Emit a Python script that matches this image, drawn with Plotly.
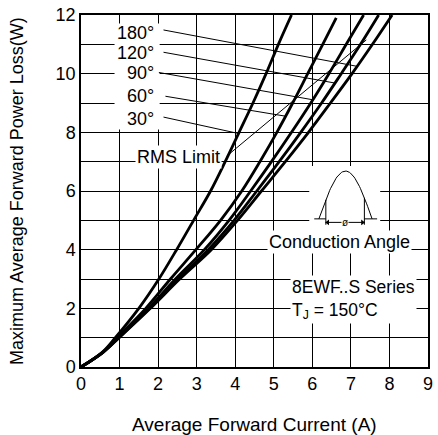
import numpy as np
import plotly.graph_objects as go

# ---------------- data ----------------
power_levels = [0, 0.5, 1, 2, 3, 4, 5, 6, 7, 8, 9, 10, 11, 12]
power_60 = [0, 0.5, 1, 2, 3, 4, 5, 6, 7, 8, 9, 10, 11, 11.9]
current_30 = [0, 0.55, 0.89, 1.50, 2.02, 2.48, 2.92, 3.36, 3.74, 4.10, 4.46, 4.80, 5.12, 5.46]
current_60 = [0, 0.56, 0.94, 1.68, 2.32, 2.98, 3.62, 4.17, 4.64, 5.08, 5.49, 5.88, 6.27, 6.62]
current_90 = [0, 0.57, 0.97, 1.75, 2.45, 3.20, 3.84, 4.40, 4.94, 5.46, 5.96, 6.43, 6.88, 7.33]
current_120 = [0, 0.57, 0.98, 1.78, 2.52, 3.30, 3.97, 4.56, 5.14, 5.70, 6.24, 6.75, 7.25, 7.72]
current_180 = [0, 0.57, 0.99, 1.80, 2.56, 3.38, 4.06, 4.68, 5.30, 5.90, 6.47, 7.03, 7.56, 8.07]

angle_labels = ["180°", "120°", "90°", "60°", "30°"]
# leader line end heights on each curve (W)
leader_end_power = [10.25, 9.68, 9.11, 8.55, 7.96]

# RMS limit line (A, W)
rms_current = [3.78, 7.40]
rms_power = [7.19, 11.15]

x_ticks = [0, 1, 2, 3, 4, 5, 6, 7, 8, 9]
y_ticks = [0, 2, 4, 6, 8, 10, 12]

# ---------------- layout / positions ----------------
FONT = "Arial, Liberation Sans, sans-serif"
label_x = 1.94
label_y = [11.38, 10.69, 10.01, 9.23, 8.47]
leader_start_x = [2.14, 2.14, 2.02, 2.19, 2.14]
leader_start_y = [11.49, 10.73, 10.04, 9.23, 8.52]

curves = [
    (current_180, power_levels),
    (current_120, power_levels),
    (current_90, power_levels),
    (current_60, power_60),
    (current_30, power_levels),
]

fig = go.Figure()

for cur, pw in curves:
    fig.add_trace(go.Scatter(x=cur, y=pw, mode="lines",
                             line=dict(color="black", width=2.8, shape="spline", smoothing=1.0),
                             hoverinfo="skip", showlegend=False))

# leader lines from labels to curves
for i, (cur, pw) in enumerate(curves):
    ex = float(np.interp(leader_end_power[i], pw, cur))
    fig.add_trace(go.Scatter(x=[leader_start_x[i], ex], y=[leader_start_y[i], leader_end_power[i]],
                             mode="lines", line=dict(color="black", width=1),
                             hoverinfo="skip", showlegend=False))

fig.add_trace(go.Scatter(x=rms_current, y=rms_power, mode="lines",
                         line=dict(color="black", width=1), hoverinfo="skip", showlegend=False))

# ---------------- conduction-angle icon ----------------
ic_x0, ic_x1, ic_base, ic_h = 6.17, 7.55, 5.05, 1.63
t = np.linspace(0, 1, 60)
fig.add_trace(go.Scatter(x=ic_x0 + (ic_x1 - ic_x0) * t, y=ic_base + ic_h * np.sin(np.pi * t),
                         mode="lines", line=dict(color="black", width=1),
                         hoverinfo="skip", showlegend=False))
v_left, v_right = 6.35, 7.35
shapes = []
# white masks (above grid, below data)
masks = [
    (0.87, 2.04, 8.10, 11.71),
    (5.92, 7.76, 4.55, 6.85),
]
for x0, x1, y0, y1 in masks:
    shapes.append(dict(type="rect", xref="x", yref="y", x0=x0, x1=x1, y0=y0, y1=y1,
                       fillcolor="white", line=dict(width=0), layer="between"))
for vx in (v_left, v_right):
    top = ic_base + ic_h * np.sin(np.pi * (vx - ic_x0) / (ic_x1 - ic_x0))
    shapes.append(dict(type="line", xref="x", yref="y", x0=vx, x1=vx, y0=4.85, y1=top,
                       line=dict(color="black", width=1)))
shapes.append(dict(type="line", xref="x", yref="y", x0=6.05, x1=v_left, y0=ic_base, y1=ic_base,
                   line=dict(color="black", width=1)))
shapes.append(dict(type="line", xref="x", yref="y", x0=v_right, x1=7.68, y0=ic_base, y1=ic_base,
                   line=dict(color="black", width=1)))
shapes.append(dict(type="line", xref="x", yref="y", x0=v_left, x1=v_right, y0=4.93, y1=4.93,
                   line=dict(color="black", width=1)))
fig.add_trace(go.Scatter(x=[v_left + 0.05, v_right - 0.05], y=[4.93, 4.93], mode="markers",
                         marker=dict(symbol=["triangle-left", "triangle-right"], size=5, color="black"),
                         hoverinfo="skip", showlegend=False))

annotations = []
for txt, ly in zip(angle_labels, label_y):
    annotations.append(dict(x=label_x, y=ly, xref="x", yref="y", text=txt, showarrow=False,
                            xanchor="right", yanchor="middle", font=dict(family=FONT, size=18, color="black")))
annotations.append(dict(x=(v_left + v_right) / 2, y=4.93, xref="x", yref="y", text="ø", showarrow=False,
                        bgcolor="white", borderpad=0, font=dict(family=FONT, size=10, color="black")))
annotations.append(dict(x=2.54, y=7.15, xref="x", yref="y", text="RMS Limit", showarrow=False,
                        bgcolor="white", borderpad=1, font=dict(family=FONT, size=18, color="black")))
annotations.append(dict(x=6.71, y=4.25, xref="x", yref="y", text="Conduction Angle", showarrow=False,
                        bgcolor="white", borderpad=1, font=dict(family=FONT, size=18, color="black")))
annotations.append(dict(x=5.41, y=2.30, xref="x", yref="y", xanchor="left", align="left",
                        text="8EWF..S Series<br>T<sub>J</sub> = 150°C", showarrow=False,
                        bgcolor="white", borderpad=1, font=dict(family=FONT, size=17.5, color="black")))
# axis titles
annotations.append(dict(x=0.5, y=0, xref="paper", yref="paper", yshift=-57, yanchor="middle",
                        text="Average Forward Current (A)", showarrow=False,
                        font=dict(family=FONT, size=19, color="black")))
annotations.append(dict(x=0, y=0.5, xref="paper", yref="paper", xshift=-64, xanchor="center",
                        text="Maximum Average Forward Power Loss(W)", textangle=-90, showarrow=False,
                        font=dict(family=FONT, size=18, color="black")))

fig.update_layout(
    width=438, height=435,
    margin=dict(l=81, r=5, t=13, b=68),
    paper_bgcolor="white", plot_bgcolor="white",
    shapes=shapes, annotations=annotations,
    font=dict(family=FONT, size=18, color="black"),
)
fig.update_xaxes(range=[0, 9], tickvals=x_ticks, showgrid=True, gridcolor="black", gridwidth=1,
                 showline=True, linecolor="black", linewidth=1.5, mirror=True, ticks="",
                 zeroline=False, tickfont=dict(family=FONT, size=18, color="black"), fixedrange=True)
fig.update_yaxes(range=[0, 12], tickvals=y_ticks, showgrid=True, gridcolor="black", gridwidth=1,
                 minor=dict(dtick=1, showgrid=True, gridcolor="black", gridwidth=1),
                 showline=True, linecolor="black", linewidth=1.5, mirror=True, ticks="",
                 zeroline=False, tickfont=dict(family=FONT, size=18, color="black"), fixedrange=True)

# remove the default 8px page margin so the 438x435 figure fills the window exactly
fig.write_html("out.html", config={"displayModeBar": False},
               post_script="document.body.style.margin='0px';document.body.style.overflow='hidden';")
